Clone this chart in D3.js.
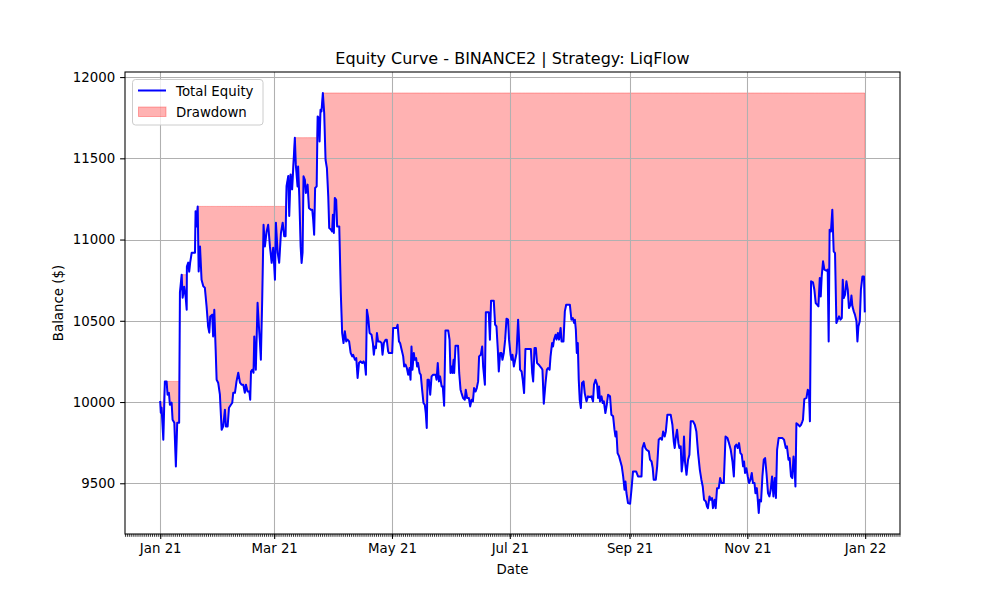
<!DOCTYPE html>
<html>
<head>
<meta charset="utf-8">
<script src="https://cdn.jsdelivr.net/npm/d3@7"></script>
<style>
  html, body { margin: 0; padding: 0; background: #fff; }
  svg { display: block; font-family: "DejaVu Sans", sans-serif; }
</style>
</head>
<body>
<svg id="chart" width="1000" height="600"></svg>
<script>
// ---------------- DATA ----------------
const startDate = "2021-01-01";
const title = "Equity Curve - BINANCE2 | Strategy: LiqFlow";
const xLabel = "Date";
const yLabel = "Balance ($)";
const legendLabels = ["Total Equity", "Drawdown"];
const yTickValues = [9500, 10000, 10500, 11000, 11500, 12000];

// day offsets from startDate
const dayOffset = [
  0,0.3,0.7,1.6,2.4,3.3,3.8,4.5,5.0,5.9,6.4,7.3,8.1,8.8,9.8,10.2,11.1,11.6,12.4,13.2,
  13.7,13.8,14.5,15.0,15.5,16.3,18.0,18.3,18.8,19.4,19.9,20.6,21.4,22.3,23.1,24.0,24.8,25.4,25.9,26.9,
  27.4,28.0,28.7,29.2,30.0,30.9,31.8,32.6,33.5,34.0,34.9,35.6,36.6,37.3,37.8,38.7,39.5,40.4,41.3,42.1,
  43.0,43.8,44.4,45.2,46.1,46.6,47.0,47.6,48.3,48.7,49.5,50.4,51.1,51.6,52.1,52.8,53.5,54.2,55.1,55.9,
  56.8,57.7,58.5,59.4,59.9,60.8,61.6,62.5,63.4,64.2,64.9,65.4,66.3,66.8,67.5,68.3,69.7,
  70.2,71.1,71.4,72.0,72.7,73.2,73.7,74.2,74.9,75.4,76.3,77.0,78.0,78.7,79.2,79.7,80.2,81.0,81.5,82.1,
  82.5,83.0,83.5,84.2,84.9,85.6,86.3,87.0,87.5,88.4,89.0,89.4,89.9,90.4,91.1,91.6,92.7,93.5,94.2,94.9,
  95.6,96.3,97.0,97.8,98.6,99.4,99.9,100.8,101.5,102.2,102.9,103.7,104.6,105.3,106.0,106.5,107.0,107.7,108.4,109.4,
  110.1,110.6,111.1,111.7,112.2,112.8,113.7,114.6,115.1,115.8,116.7,117.3,118.0,118.4,120.1,120.6,122.4,122.9,123.6,124.2,
  125.0,125.8,126.3,127.0,127.7,128.4,129.1,129.6,130.1,130.6,131.3,131.8,132.5,133.0,133.5,134.3,134.9,135.6,136.3,137.0,
  137.5,138.0,138.4,139.1,139.8,140.5,141.3,142.6,
  143.1,143.7,144.3,144.9,145.7,146.3,147.0,147.7,149.1,149.8,150.3,150.8,151.3,151.9,152.2,152.9,154.2,154.8,155.5,156.0,
  156.8,157.7,158.2,158.9,159.8,160.5,161.2,161.9,162.5,163.3,163.9,164.6,165.1,166.0,166.7,167.2,168.1,168.6,170.1,170.7,
  171.3,172.7,173.4,174.1,174.8,175.3,176.0,176.7,177.2,177.9,178.6,179.3,180.1,180.6,181.4,181.9,182.4,183.1,183.8,184.5,
  185.3,185.8,186.3,187.1,187.7,188.4,189.1,191.9,192.6,193.1,193.8,194.5,195.1,196.0,196.7,197.4,197.9,198.6,199.5,200.2,
  200.8,201.6,202.1,202.9,203.4,203.9,204.7,205.2,205.9,206.5,207.3,207.8,208.8,209.5,210.2,212.1,212.9,213.6,214.3,
  214.7,215.2,215.7,216.2,216.7,217.2,217.8,218.4,219.2,219.8,220.7,221.5,222.4,223.3,224.1,224.6,225.4,226.2,226.7,227.2,
  227.7,228.5,229.1,229.7,230.5,231.2,231.9,232.9,233.6,234.5,235.2,235.7,236.2,236.8,237.6,238.3,239.0,239.7,240.4,240.9,
  241.4,242.2,243.3,244.0,244.8,246.4,247.4,249.2,249.7,250.5,251.2,251.8,253.0,253.6,254.4,255.0,255.5,256.6,257.3,258.1,
  259.0,259.8,260.4,261.2,261.8,262.6,264.3,265.2,265.9,266.4,266.9,267.6,268.3,268.8,269.5,270.0,270.7,271.2,271.7,272.5,
  273.3,274.0,274.7,275.9,276.8,277.6,278.5,279.4,280.2,280.9,281.6,282.5,283.1,283.6,284.4,285.0,285.7,286.2,287.0,287.6,
  288.3,289.2,289.9,290.6,291.8,
  292.7,293.7,294.5,295.4,296.3,297.0,297.6,298.3,299.0,299.7,300.4,301.1,301.8,302.3,302.8,303.5,304.2,304.9,305.6,306.3,
  306.9,307.7,308.2,308.9,309.4,309.9,310.4,311.1,311.8,312.5,313.2,313.9,314.7,315.4,316.1,316.8,317.5,318.2,318.8,319.4,
  320.2,322.2,323.0,323.9,324.5,325.3,325.9,326.6,327.3,327.9,328.4,328.9,329.4,330.4,331.1,331.8,332.5,332.8,333.5,334.6,
  335.3,335.9,336.4,337.0,338.0,338.7,339.4,340.1,340.8,341.5,342.0,342.5,343.2,343.9,344.9,345.6,346.1,346.6,347.3,348.0,
  348.7,349.4,350.1,350.8,351.5,352.2,352.9,353.4,353.9,354.6,355.3,356.0,356.6,357.4,357.9,358.4,359.1,359.7,360.5,361.0,
  361.5,362.2,362.8,363.6,364.4,364.8
];

const equity = [
  10000,9934,9965,9768,10127,10127,10045,10057,9983,9996,9891,9873,9603,9873,9873,10673,10784,10642,10710,10642,
  10568,10833,10858,10802,10858,10919,10919,11174,11081,11204,10804,10958,10753,10712,10704,10589,10465,10427,10527,10538,
  10404,10568,10322,10137,10119,10045,9829,9850,9953,9850,9850,9965,9983,9996,10057,10057,10127,10180,10119,10107,
  10107,10057,10107,10065,10065,10014,10188,10199,10180,10404,10199,10611,10465,10373,10260,10630,11091,10958,11050,11091,
  10958,10857,10950,10753,11104,10920,10857,11040,11104,11021,11021,11329,11391,11145,11401,11309,11627,
  11461,11327,11450,11266,10958,10856,10919,11389,11368,11287,11338,11194,11184,11184,11122,11030,11317,11327,11758,11748,
  11604,11799,11789,11902,11779,11491,11440,11266,11071,11061,11050,11153,11040,11256,11245,11081,11081,10671,10425,10363,
  10435,10373,10384,10373,10302,10281,10291,10260,10271,10148,10240,10250,10240,10250,10230,10168,10568,10517,10425,10414,
  10363,10291,10342,10332,10425,10373,10373,10363,10291,10363,10384,10384,10312,10302,10302,10456,10456,10476,10373,10363,
  10322,10281,10219,10230,10209,10168,10209,10137,10342,10199,10302,10260,10271,10219,10240,10179,10168,10076,9994,9983,
  9932,9840,10137,10137,10045,10158,10168,10168,
  10137,10240,10127,10158,10096,10096,9977,10441,10441,10384,10179,10219,10179,10260,10179,10347,10347,10179,10076,10055,
  10025,10014,10076,10025,10025,9973,10014,10004,10086,10065,10086,10127,10281,10291,10342,10219,10107,10552,10552,10384,
  10624,10624,10476,10465,10322,10188,10302,10302,10260,10302,10384,10513,10507,10384,10291,10260,10291,10219,10260,10302,
  10507,10384,10199,10188,10137,10055,10326,10326,10179,10127,10332,10332,10240,10230,10219,10209,10199,9990,10117,10199,
  10209,10199,10281,10363,10342,10384,10414,10384,10425,10384,10456,10373,10373,10558,10599,10599,10507,10517,10486,
  10507,10445,10302,10363,10137,10014,9963,10117,10127,10055,10004,10035,10031,10035,10004,10107,10137,10107,10025,10096,
  10004,10035,9994,10004,9932,9983,10045,10035,9922,9912,9830,9788,9819,9686,9665,9634,9603,9542,9460,9511,
  9440,9378,9374,9460,9573,9573,9542,9542,9717,9748,9717,9706,9696,9645,9634,9594,9522,9522,9604,9768,
  9779,9768,9819,9788,9819,9922,9922,9860,9757,9717,9778,9829,9747,9717,9727,9573,9645,9788,9634,9552,
  9645,9676,9881,9881,9860,9819,9686,9583,9522,9480,9398,9388,9357,9347,9419,9398,9409,9347,9398,9347,
  9470,9470,9532,9501,9501,
  9788,9778,9747,9706,9634,9542,9727,9738,9717,9747,9686,9676,9604,9634,9563,9593,9542,9501,9522,9563,
  9501,9501,9439,9470,9398,9317,9398,9388,9542,9645,9655,9563,9439,9419,9460,9542,9419,9532,9409,9706,
  9778,9778,9768,9717,9727,9645,9655,9542,9532,9665,9604,9480,9870,9860,9850,9860,9881,9891,10018,10025,
  10076,10065,9881,10743,10736,10691,10609,10599,10589,10763,10650,10773,10866,10815,10808,10815,10373,11060,11050,11184,
  10927,10917,10486,10507,10527,10507,10517,10753,10640,10661,10743,10691,10579,10599,10655,10589,10558,10538,10497,10373,
  10465,10497,10692,10773,10773,10558
];

// ---------------- CHART ----------------
const W = 1000, H = 600;
const M = { left: 125, right: 900, top: 72, bottom: 534 };
const svg = d3.select("#chart");

const t0 = Date.parse(startDate + "T00:00:00Z");
const n = Math.min(dayOffset.length, equity.length);
const data = [];
let peak = -Infinity;
for (let i = 0; i < n; i++) {
  peak = Math.max(peak, equity[i]);
  data.push({ date: new Date(t0 + dayOffset[i] * 86400000), v: equity[i], peak: peak });
}

// matplotlib-like 5% margins
const xExt = d3.extent(data, d => +d.date);
const xPad = (xExt[1] - xExt[0]) * 0.05;
const x = d3.scaleUtc().domain([new Date(xExt[0] - xPad), new Date(xExt[1] + xPad)]).range([M.left, M.right]);
const yExt = d3.extent(data, d => d.v);
const yPad = (yExt[1] - yExt[0]) * 0.05;
const y = d3.scaleLinear().domain([yExt[0] - yPad, yExt[1] + yPad]).range([M.bottom, M.top]);

svg.append("defs").append("clipPath").attr("id", "clip")
  .append("rect").attr("x", M.left).attr("y", M.top)
  .attr("width", M.right - M.left).attr("height", M.bottom - M.top);

// drawdown fill
const area = d3.area().x(d => x(d.date)).y0(d => y(d.peak)).y1(d => y(d.v));
svg.append("path").datum(data)
  .attr("clip-path", "url(#clip)")
  .attr("d", area)
  .attr("fill", "red").attr("fill-opacity", 0.3)
  .attr("stroke", "red").attr("stroke-opacity", 0.3).attr("stroke-width", 1);

// grid
const xMajor = x.ticks(d3.utcMonth.every(2));
const grid = svg.append("g").attr("stroke", "#b0b0b0").attr("stroke-width", 1.07);
xMajor.forEach(t => {
  const px = Math.round(x(t)) + 0.5;
  grid.append("line").attr("x1", px).attr("x2", px).attr("y1", M.top).attr("y2", M.bottom);
});
yTickValues.forEach(t => {
  const py = Math.round(y(t)) + 0.5;
  grid.append("line").attr("x1", M.left).attr("x2", M.right).attr("y1", py).attr("y2", py);
});

// equity line
const line = d3.line().x(d => x(d.date)).y(d => y(d.v));
svg.append("path").datum(data)
  .attr("clip-path", "url(#clip)")
  .attr("d", line)
  .attr("fill", "none").attr("stroke", "blue").attr("stroke-width", 2)
  .attr("stroke-linejoin", "round").attr("stroke-linecap", "square");

// spines
svg.append("rect").attr("x", M.left).attr("y", M.top)
  .attr("width", M.right - M.left).attr("height", M.bottom - M.top)
  .attr("fill", "none").attr("stroke", "black").attr("stroke-width", 1.07);

// x axis
const fmt = d3.utcFormat("%b %y");
const xAxis = d3.axisBottom(x).tickValues(xMajor).tickFormat(fmt).tickSize(4.9).tickPadding(4.9);
const gx = svg.append("g").attr("transform", `translate(0,${M.bottom})`).call(xAxis);
gx.select(".domain").remove();
gx.selectAll(".tick line").attr("stroke", "black").attr("stroke-width", 1.07);
gx.selectAll(".tick text").attr("font-size", "13.33px").attr("fill", "black")
  .attr("font-family", "DejaVu Sans, sans-serif");

// minor daily ticks
const minor = d3.utcDay.range(x.domain()[0], x.domain()[1]);
const gm = svg.append("g").attr("stroke", "black").attr("stroke-width", 0.8);
minor.forEach(t => {
  const px = x(t);
  gm.append("line").attr("x1", px).attr("x2", px).attr("y1", M.bottom).attr("y2", M.bottom + 2.8);
});

// y axis
const yAxis = d3.axisLeft(y).tickValues(yTickValues).tickFormat(d3.format("d")).tickSize(4.9).tickPadding(4.9);
const gy = svg.append("g").attr("transform", `translate(${M.left},0)`).call(yAxis);
gy.select(".domain").remove();
gy.selectAll(".tick line").attr("stroke", "black").attr("stroke-width", 1.07);
gy.selectAll(".tick text").attr("font-size", "13.33px").attr("fill", "black")
  .attr("font-family", "DejaVu Sans, sans-serif");

// labels
svg.append("text").attr("x", (M.left + M.right) / 2).attr("y", 64)
  .attr("text-anchor", "middle").attr("font-size", "16px").text(title);
svg.append("text").attr("x", (M.left + M.right) / 2).attr("y", 574)
  .attr("text-anchor", "middle").attr("font-size", "13.33px").text(xLabel);
svg.append("text")
  .attr("transform", `translate(63,${(M.top + M.bottom) / 2}) rotate(-90)`)
  .attr("text-anchor", "middle").attr("font-size", "13.33px").text(yLabel);

// legend
const lg = svg.append("g");
lg.append("rect").attr("x", 132.5).attr("y", 79.5).attr("width", 130.5).attr("height", 45.5)
  .attr("rx", 3).attr("fill", "white").attr("fill-opacity", 0.8)
  .attr("stroke", "#cccccc").attr("stroke-width", 1);
lg.append("line").attr("x1", 138).attr("x2", 166).attr("y1", 90.5).attr("y2", 90.5)
  .attr("stroke", "blue").attr("stroke-width", 2);
lg.append("text").attr("x", 176).attr("y", 95.5).attr("font-size", "13.33px").text(legendLabels[0]);
lg.append("rect").attr("x", 138.5).attr("y", 107).attr("width", 27.5).attr("height", 9.5)
  .attr("fill", "red").attr("fill-opacity", 0.3)
  .attr("stroke", "red").attr("stroke-opacity", 0.3).attr("stroke-width", 1);
lg.append("text").attr("x", 176).attr("y", 116.5).attr("font-size", "13.33px").text(legendLabels[1]);
</script>
</body>
</html>
